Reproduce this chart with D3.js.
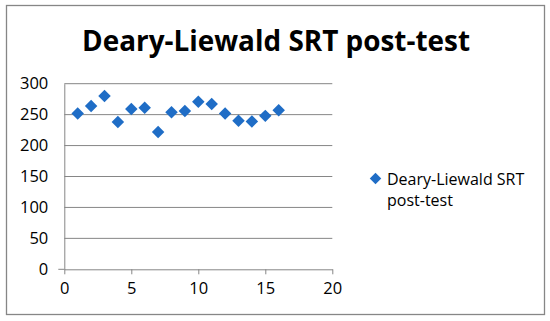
<!DOCTYPE html>
<html>
<head>
<meta charset="utf-8">
<script src="https://cdn.jsdelivr.net/npm/d3@7"></script>
<style>
  body { margin: 0; background: #fff; }
  text { font-family: "Open Sans", sans-serif; fill: #000; }
</style>
</head>
<body>
<div id="chart"></div>
<script>
let svgWidth = 550;
let svgHeight = 321;

// Data
let trials = [1, 2, 3, 4, 5, 6, 7, 8, 9, 10, 11, 12, 13, 14, 15, 16];
let srtValues = [252, 264, 280, 238, 259, 261, 222, 254, 256, 271, 267, 252, 240, 239, 248, 257];
let xTicks = [0, 5, 10, 15, 20];
let yTicks = [0, 50, 100, 150, 200, 250, 300];
let seriesName = 'Deary-Liewald SRT post-test';
let legendLines = ['Deary-Liewald SRT', 'post-test'];

let plot = { left: 64.3, right: 332.3, top: 83.7, bottom: 269.3 };
let gridColor = '#868686';
let markerColor = '#1f6dc6';

let svg = d3.select('#chart')
    .append('svg')
    .attr('width', svgWidth)
    .attr('height', svgHeight);

// Chart border
svg.append('rect')
    .attr('x', 6.5)
    .attr('y', 5.5)
    .attr('width', 538)
    .attr('height', 309)
    .attr('fill', '#fff')
    .attr('stroke', gridColor)
    .attr('stroke-width', 1.3);

// Title
svg.append('text')
    .attr('x', 276)
    .attr('y', 51)
    .attr('text-anchor', 'middle')
    .attr('font-size', 29)
    .attr('font-weight', 'bold')
    .attr('textLength', 388)
    .attr('lengthAdjust', 'spacingAndGlyphs')
    .text(seriesName);

let xScale = d3.scaleLinear().domain([0, 20]).range([plot.left, plot.right]);
let yScale = d3.scaleLinear().domain([0, 300]).range([plot.bottom, plot.top]);

// Horizontal gridlines
svg.append('g')
    .selectAll('line')
    .data(yTicks.filter(d => d > 0))
    .enter()
    .append('line')
    .attr('x1', plot.left)
    .attr('x2', plot.right)
    .attr('y1', d => yScale(d))
    .attr('y2', d => yScale(d))
    .attr('stroke', gridColor)
    .attr('stroke-width', 1);

// Y axis
let yAxis = svg.append('g')
    .attr('transform', `translate(${plot.left}, 0)`)
    .call(d3.axisLeft(yScale).tickValues(yTicks).tickSize(0).tickPadding(16));
yAxis.select('.domain').attr('stroke', gridColor);
yAxis.selectAll('text')
    .attr('font-size', 16.5)
    .attr('font-family', '"Open Sans", sans-serif')
    .attr('fill', '#000');

// X axis
let xAxis = svg.append('g')
    .attr('transform', `translate(0, ${plot.bottom})`)
    .call(d3.axisBottom(xScale).tickValues(xTicks).tickSize(5).tickSizeOuter(0).tickPadding(8));
xAxis.select('.domain').attr('stroke', gridColor);
xAxis.selectAll('line').attr('stroke', gridColor);
xAxis.selectAll('text')
    .attr('font-size', 16.5)
    .attr('font-family', '"Open Sans", sans-serif')
    .attr('fill', '#000');

// Small tick at origin on left
svg.append('line')
    .attr('x1', plot.left - 6)
    .attr('x2', plot.left)
    .attr('y1', yScale(0))
    .attr('y2', yScale(0))
    .attr('stroke', gridColor);

// Diamond markers
let diamond = d3.symbol().type(d3.symbolSquare).size(78);
svg.append('g')
    .selectAll('path')
    .data(trials.map((t, i) => ({ x: t, y: srtValues[i] })))
    .enter()
    .append('path')
    .attr('d', diamond)
    .attr('transform', d => `translate(${xScale(d.x)}, ${yScale(d.y)}) rotate(45)`)
    .attr('fill', markerColor);

// Legend
let legend = svg.append('g');
legend.append('path')
    .attr('d', d3.symbol().type(d3.symbolSquare).size(66))
    .attr('transform', 'translate(375.5, 178.5) rotate(45)')
    .attr('fill', markerColor);
legend.selectAll('text')
    .data(legendLines)
    .enter()
    .append('text')
    .attr('x', 387)
    .attr('y', (d, i) => 185 + i * 20.5)
    .attr('font-size', 16)
    .text(d => d);
</script>
</body>
</html>
